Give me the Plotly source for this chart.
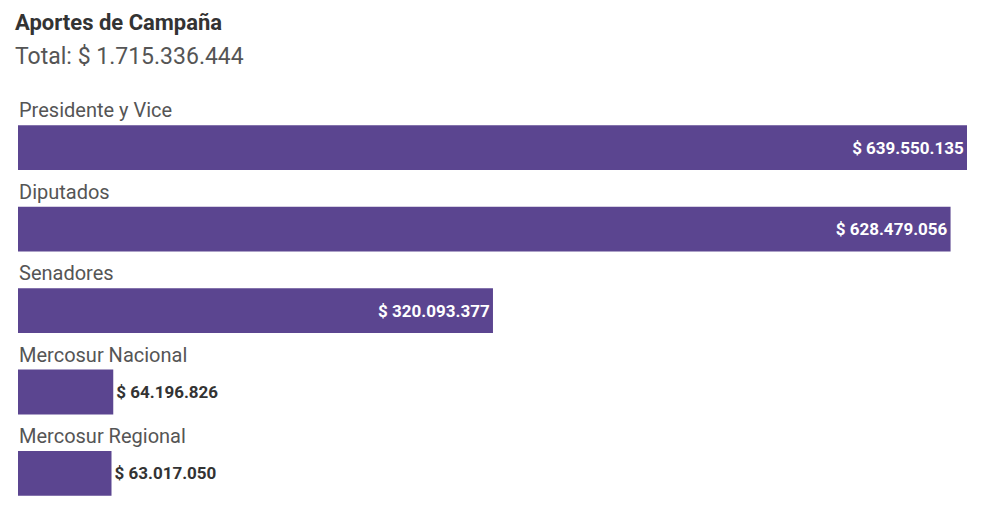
import plotly.graph_objects as go

# datos de aportes por categoría
categorias = ["Presidente y Vice", "Diputados", "Senadores", "Mercosur Nacional", "Mercosur Regional"]
montos = [639550135, 628479056, 320093377, 64196826, 63017050]

COLOR = "#5b4590"


def pesos(v):
    # formato argentino con puntos de miles
    return "$ " + f"{v:,}".replace(",", ".")


total = sum(montos)
posiciones = ["inside", "inside", "inside", "outside", "outside"]

fig = go.Figure()
fig.add_trace(go.Bar(
    x=montos,
    y=list(range(len(categorias))),
    orientation="h",
    width=0.55,
    marker=dict(color=COLOR, line=dict(width=0)),
    text=[pesos(v) for v in montos],
    textposition=posiciones,
    insidetextanchor="end",
    insidetextfont=dict(family="Roboto", size=17, color="white", weight="bold"),
    outsidetextfont=dict(family="Roboto", size=17, color="#333333", weight="bold"),
    cliponaxis=False,
    hoverinfo="skip",
))

# etiquetas de categoría sobre cada barra
for i, c in enumerate(categorias):
    fig.add_annotation(
        x=0, y=i - 0.46, xref="x", yref="y",
        text=c, showarrow=False,
        xanchor="left", yanchor="middle", xshift=-1,
        font=dict(family="Roboto", size=20, color="#555555"),
    )

# título y subtítulo
fig.add_annotation(
    x=0, y=1, xref="paper", yref="paper",
    text="<b>Aportes de Campaña</b>", showarrow=False,
    xanchor="left", yanchor="middle", xshift=-5, yshift=85,
    font=dict(family="Roboto", size=22, color="#333333"),
)
fig.add_annotation(
    x=0, y=1, xref="paper", yref="paper",
    text="Total: " + pesos(total), showarrow=False,
    xanchor="left", yanchor="middle", xshift=-5, yshift=51,
    font=dict(family="Roboto", size=23, color="#555555"),
)

# la página deja 8px de margen, por eso 984x498
fig.update_layout(
    width=984, height=498,
    margin=dict(l=10, r=25, t=99, b=0),
    paper_bgcolor="white", plot_bgcolor="white",
    showlegend=False,
    xaxis=dict(range=[0, montos[0]], visible=False, fixedrange=True),
    yaxis=dict(range=[4.4, -0.5], visible=False, fixedrange=True),
)

fig.write_html("out.html")
